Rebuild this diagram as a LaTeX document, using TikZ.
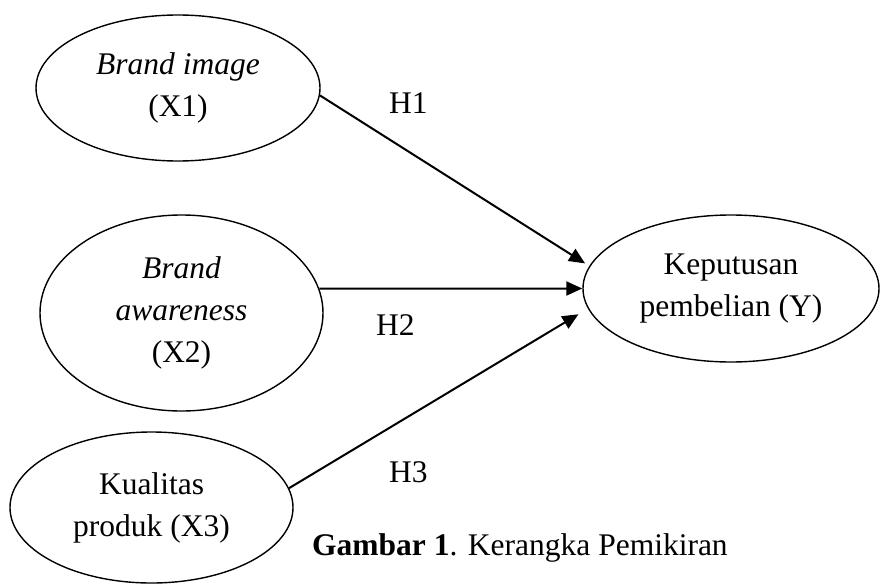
\documentclass[tikz,border=0pt]{standalone}
\usepackage{fontspec}
\setmainfont{Liberation Serif}
\usetikzlibrary{arrows.meta,shapes.geometric}
\begin{document}
\begin{tikzpicture}[x=1pt,y=-1pt,
  construct/.style={draw, ellipse, line width=1.4pt, inner sep=0pt, align=center,
    font=\fontsize{31.5}{42}\selectfont},
  arr/.style={line width=2pt, -{Triangle[length=16pt,width=14pt]}},
  hyp/.style={anchor=base west, inner sep=0pt, font=\fontsize{31.5}{42}\selectfont}]
\useasboundingbox (0,0) rectangle (880,586);
\node[construct, minimum width=284pt, minimum height=146pt] (e1) at (178,88)
  {\textit{Brand image}\\(X1)};
\node[construct, minimum width=283pt, minimum height=196pt] (e2) at (181.5,313)
  {\textit{Brand}\\\textit{awareness}\\(X2)};
\node[construct, minimum width=283pt, minimum height=151pt] (e3) at (151.5,507.5)
  {Kualitas\\produk (X3)};
\node[construct, minimum width=296pt, minimum height=147pt] (y) at (731,288.5)
  {Keputusan\\pembelian (Y)};
\draw[arr, shorten >=5pt] (e1.-3.2) -- (y.171.7);
\draw[arr] (e2.10.1) -- (y.west);
\draw[arr, shorten >=11pt] (e3.8) -- (y.188.8);
\node[hyp] (h1) at (389,113) {H1};
\node[hyp] (h2) at (376,335) {H2};
\node[hyp] (h3) at (389,482) {H3};
\node[hyp] (cap) at (312,555) {\textbf{Gambar 1}. Kerangka Pemikiran};
\end{tikzpicture}
\end{document}
